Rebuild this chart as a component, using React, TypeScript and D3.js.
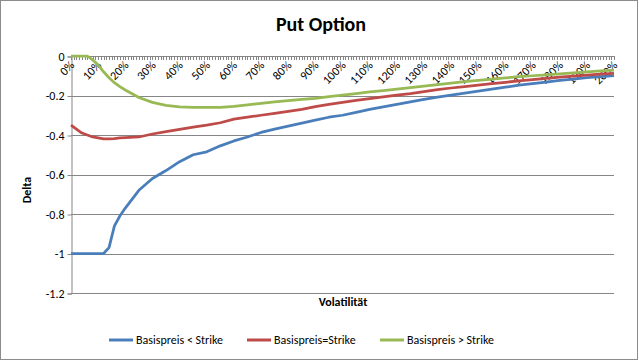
import React, { useEffect, useRef } from 'react';
import * as d3 from 'd3';

// volatility in % (x positions of the sampled points)
const volatility = [0, 2, 4, 6, 8, 10, 12, 14, 16, 18, 20, 25, 30, 35, 40, 45, 50, 55, 60, 65, 70, 75, 80, 85, 90, 95, 100,
  105, 110, 115, 120, 125, 130, 135, 140, 145, 150, 155, 160, 165, 170, 175, 180, 185, 190, 195, 200];

const deltaBelow = [-1, -1, -1, -1, -1, -1, -1, -0.97, -0.86, -0.81, -0.77, -0.68, -0.62, -0.58, -0.535, -0.5, -0.485, -0.455,
  -0.43, -0.41, -0.387, -0.37, -0.355, -0.34, -0.325, -0.31, -0.3, -0.285, -0.27, -0.258, -0.245, -0.232, -0.22, -0.208,
  -0.198, -0.188, -0.178, -0.168, -0.158, -0.148, -0.14, -0.132, -0.124, -0.117, -0.11, -0.105, -0.1];

const deltaAt = [-0.35, -0.37, -0.39, -0.4, -0.41, -0.415, -0.42, -0.42, -0.418, -0.415, -0.413, -0.41, -0.395, -0.383,
  -0.372, -0.36, -0.35, -0.338, -0.32, -0.31, -0.3, -0.29, -0.28, -0.27, -0.256, -0.245, -0.235, -0.225, -0.216, -0.207,
  -0.198, -0.19, -0.18, -0.17, -0.162, -0.155, -0.148, -0.14, -0.133, -0.126, -0.12, -0.113, -0.107, -0.102, -0.097,
  -0.092, -0.088];

const deltaAbove = [0, 0, 0, 0, -0.02, -0.045, -0.08, -0.11, -0.135, -0.155, -0.172, -0.21, -0.235, -0.25, -0.258, -0.26,
  -0.26, -0.26, -0.255, -0.248, -0.24, -0.232, -0.226, -0.22, -0.214, -0.206, -0.198, -0.19, -0.182, -0.175, -0.168, -0.16,
  -0.152, -0.145, -0.137, -0.13, -0.123, -0.117, -0.111, -0.105, -0.1, -0.095, -0.09, -0.085, -0.08, -0.075, -0.071];

const seriesNames = ['Basispreis < Strike', 'Basispreis=Strike', 'Basispreis > Strike'];
const seriesColors = ['#4A7EBB', '#BE4B48', '#98B954'];
const yTicks = [0, -0.2, -0.4, -0.6, -0.8, -1, -1.2];
const xLabelTicks = d3.range(0, 201, 10);

const W = 639;
const H = 361;
const font = 'Carlito, Lato, "Liberation Sans", sans-serif';

const App = () => {
  const ref = useRef<SVGSVGElement>(null);

  useEffect(() => {
    const svg = d3.select(ref.current);
    svg.selectAll('*').remove();

    const x = d3.scaleLinear().domain([0, 200]).range([71, 614]);
    const y = d3.scaleLinear().domain([-1.2, 0]).range([293, 56]);

    svg.append('rect')
      .attr('x', 0.5).attr('y', 0.5)
      .attr('width', W - 2).attr('height', H - 2)
      .attr('fill', '#fff')
      .attr('stroke', '#8c8c8c');

    // title
    svg.append('text')
      .attr('x', 321).attr('y', 31)
      .attr('text-anchor', 'middle')
      .style('font-family', font)
      .style('font-size', '20px')
      .style('font-weight', 'bold')
      .text('Put Option');

    // horizontal grid
    svg.append('g')
      .selectAll('line')
      .data(yTicks)
      .enter().append('line')
      .attr('x1', 71).attr('x2', 614)
      .attr('y1', d => Math.round(y(d)) + 0.5)
      .attr('y2', d => Math.round(y(d)) + 0.5)
      .attr('stroke', '#868686');

    // y axis
    const yAxis = svg.append('g')
      .attr('transform', 'translate(71.5,0.5)')
      .call(d3.axisLeft(y).tickValues(yTicks).tickSize(4).tickFormat(d => String(d)));
    yAxis.select('.domain').attr('stroke', '#868686');
    yAxis.selectAll('line').attr('stroke', '#868686');
    yAxis.selectAll('text')
      .attr('fill', '#000')
      .style('font-family', font)
      .style('font-size', '12px');

    // category axis at 0 with ticks on every category
    svg.append('g')
      .selectAll('line')
      .data(d3.range(0, 201))
      .enter().append('line')
      .attr('x1', d => Math.round(x(d)) + 0.5)
      .attr('x2', d => Math.round(x(d)) + 0.5)
      .attr('y1', 56).attr('y2', 60)
      .attr('stroke', '#868686');

    svg.append('g')
      .selectAll('text')
      .data(xLabelTicks)
      .enter().append('text')
      .attr('transform', d => `translate(${x(d) + 4},${66}) rotate(-45)`)
      .attr('text-anchor', 'end')
      .style('font-family', font)
      .style('font-size', '12px')
      .text(d => `${d}%`);

    // axis titles
    svg.append('text')
      .attr('transform', 'translate(31,190) rotate(-90)')
      .attr('text-anchor', 'middle')
      .style('font-family', font)
      .style('font-size', '12px')
      .style('font-weight', 'bold')
      .text('Delta');

    svg.append('text')
      .attr('x', 343).attr('y', 306)
      .attr('text-anchor', 'middle')
      .style('font-family', font)
      .style('font-size', '12px')
      .style('font-weight', 'bold')
      .text('Volatilität');

    // lines
    const line = d3.line<number>()
      .x((d, i) => x(volatility[i]))
      .y(d => y(d));

    [deltaBelow, deltaAt, deltaAbove].forEach((s, k) => {
      svg.append('path')
        .datum(s)
        .attr('fill', 'none')
        .attr('stroke', seriesColors[k])
        .attr('stroke-width', 2.75)
        .attr('stroke-linejoin', 'round')
        .attr('d', line);
    });

    // legend
    const legendX = [109, 247, 380];
    const lg = svg.append('g');
    seriesNames.forEach((name, k) => {
      lg.append('line')
        .attr('x1', legendX[k]).attr('x2', legendX[k] + 24)
        .attr('y1', 340).attr('y2', 340)
        .attr('stroke', seriesColors[k])
        .attr('stroke-width', 3);
      lg.append('text')
        .attr('x', legendX[k] + 27).attr('y', 344)
        .style('font-family', font)
        .style('font-size', '12px')
        .text(name);
    });
  }, []);

  return (
    <svg ref={ref} width={W} height={H} style={{ position: 'absolute', left: 0, top: 0 }}></svg>
  );
};

export default App;
